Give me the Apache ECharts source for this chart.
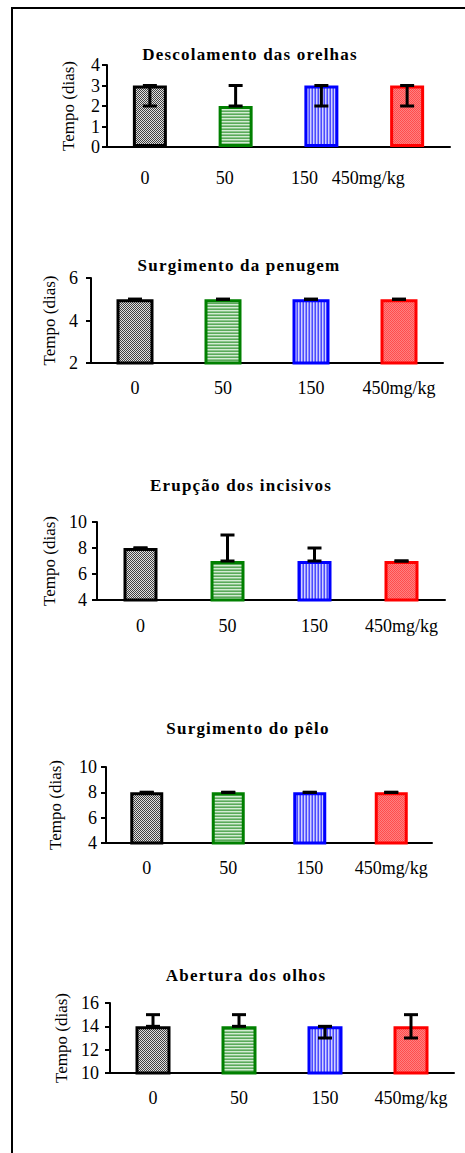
<!DOCTYPE html>
<html>
<head>
<meta charset="utf-8">
<script src="https://cdn.jsdelivr.net/npm/echarts@6/dist/echarts.min.js"></script>
<style>
html,body{margin:0;padding:0;background:#fff;}
#chart{width:465px;height:1153px;}
</style>
</head>
<body>
<div id="chart"></div>
<script>
// ---- data ----
const categories = ['0', '50', '150', '450mg/kg'];
const titles = ['Descolamento das orelhas', 'Surgimento da penugem', 'Erupção dos incisivos', 'Surgimento do pêlo', 'Abertura dos olhos'];
const yName = 'Tempo (dias)';

const values1 = [3, 2, 3, 3];
const errLow1 = [2, 2, 2, 2];
const errHigh1 = [3, 3, 3, 3];

const values2 = [5, 5, 5, 5];
const errLow2 = [5, 5, 5, 5];
const errHigh2 = [5, 5, 5, 5];

const values3 = [8, 7, 7, 7];
const errLow3 = [8, 7, 7, 7];
const errHigh3 = [8, 9, 8, 7];

const values4 = [8, 8, 8, 8];
const errLow4 = [8, 8, 8, 8];
const errHigh4 = [8, 8, 8, 8];

const values5 = [14, 14, 14, 14];
const errLow5 = [14, 14, 13, 13];
const errHigh5 = [15, 15, 14, 15];

const yMins = [0, 2, 4, 4, 10];
const yMaxs = [4, 6, 10, 10, 16];
const ySteps = [1, 2, 2, 2, 2];

const allValues = [values1, values2, values3, values4, values5];
const allLow = [errLow1, errLow2, errLow3, errLow4, errLow5];
const allHigh = [errHigh1, errHigh2, errHigh3, errHigh4, errHigh5];

// ---- styles ----
const FONT = 'Liberation Serif, Times New Roman, serif';
const borderColors = ['#000000', '#008000', '#0000ff', '#ff0000'];

function makePattern(w, h, drawFn) {
  const c = document.createElement('canvas');
  c.width = w; c.height = h;
  const ctx = c.getContext('2d');
  drawFn(ctx);
  return { image: c, repeat: 'repeat' };
}
const patterns = [
  makePattern(2, 2, ctx => { ctx.fillStyle = '#e0e0e0'; ctx.fillRect(0,0,2,2); ctx.fillStyle = '#404040'; ctx.fillRect(0,0,1,1); ctx.fillRect(1,1,1,1); }),
  makePattern(1, 3, ctx => { ctx.fillStyle = '#5aaa5a'; ctx.fillRect(0,0,1,1); ctx.fillStyle = '#d4ecd4'; ctx.fillRect(0,1,1,1); ctx.fillStyle = '#8cc48c'; ctx.fillRect(0,2,1,1); }),
  makePattern(3, 1, ctx => { ctx.fillStyle = '#4a4aff'; ctx.fillRect(0,0,1,1); ctx.fillStyle = '#d0d0ff'; ctx.fillRect(1,0,1,1); ctx.fillStyle = '#8a8aff'; ctx.fillRect(2,0,1,1); }),
  makePattern(2, 2, ctx => { ctx.fillStyle = '#ff8080'; ctx.fillRect(0,0,2,2); ctx.fillStyle = '#ff4d4d'; ctx.fillRect(0,0,1,1); ctx.fillRect(1,1,1,1); })
];

// layout of each panel (pixels)
const grids = [
  { left: 107, top: 65, width: 343, height: 82 },
  { left: 91, top: 278, width: 352, height: 85 },
  { left: 97, top: 522, width: 348, height: 78 },
  { left: 106, top: 767, width: 326, height: 76 },
  { left: 110, top: 1003, width: 344, height: 70 }
];
const barWidths = [34, 37, 34, 33, 35];
const titlePos = [[245, 41], [234, 252], [236, 472], [243, 715], [241, 962]];
const nameGaps = [30, 32, 38, 42, 39];
const labelMargins = [22, 16, 17, 16, 16];
const tickLabelMargins = [7, 13, 10, 9, 11];
const p1Shift = [10, 22, 34, 78];

const catLabel = { fontFamily: FONT, fontSize: 18, color: '#000' };

const option = {
  animation: false,
  backgroundColor: '#ffffff',
  title: titles.map((t, i) => ({
    text: t,
    left: titlePos[i][0],
    top: titlePos[i][1],
    textAlign: 'center',
    textStyle: { fontFamily: FONT, fontWeight: 'bold', fontSize: 17, color: '#000' }
  })),
  grid: grids.map(g => Object.assign({ containLabel: false }, g)),
  xAxis: grids.map((g, i) => ({
    type: 'category',
    gridIndex: i,
    data: categories,
    axisLine: { lineStyle: { color: '#000', width: 2 } },
    axisTick: { show: false },
    axisLabel: i === 0 ? {
      margin: labelMargins[i],
      interval: 0,
      hideOverlap: false,
      formatter: (v, idx) => '{p' + idx + '|' + v + '}',
      rich: {
        p0: Object.assign({ padding: [0, p1Shift[0], 0, 0] }, catLabel),
        p1: Object.assign({ padding: [0, p1Shift[1], 0, 0] }, catLabel),
        p2: Object.assign({ padding: [0, p1Shift[2], 0, 0] }, catLabel),
        p3: Object.assign({ padding: [0, p1Shift[3], 0, 0] }, catLabel)
      }
    } : Object.assign({ margin: labelMargins[i], interval: 0, hideOverlap: false }, catLabel)
  })),
  yAxis: grids.map((g, i) => ({
    type: 'value',
    gridIndex: i,
    min: yMins[i],
    max: yMaxs[i],
    interval: ySteps[i],
    name: yName,
    nameLocation: 'middle',
    nameGap: nameGaps[i],
    nameTextStyle: { fontFamily: FONT, fontSize: 17, color: '#000' },
    axisLine: { show: true, lineStyle: { color: '#000', width: 2 } },
    axisTick: { show: true, length: 5, lineStyle: { color: '#000', width: 2 } },
    axisLabel: { fontFamily: FONT, fontSize: 18, color: '#000', margin: tickLabelMargins[i] },
    splitLine: { show: false }
  })),
  series: []
};

allValues.forEach((vals, i) => {
  option.series.push({
    type: 'bar',
    xAxisIndex: i,
    yAxisIndex: i,
    barWidth: barWidths[i],
    data: vals.map((v, k) => ({
      value: v,
      itemStyle: { color: patterns[k], borderColor: borderColors[k], borderWidth: 3 }
    }))
  });
  option.series.push({
    type: 'custom',
    xAxisIndex: i,
    yAxisIndex: i,
    data: vals.map((v, k) => [k, allLow[i][k], allHigh[i][k]]),
    renderItem: function (params, api) {
      const lo = api.coord([api.value(0), api.value(1)]);
      const hi = api.coord([api.value(0), api.value(2)]);
      const hw = 7;
      const st = { stroke: '#000', lineWidth: 3 };
      return {
        type: 'group',
        children: [
          { type: 'line', shape: { x1: lo[0], y1: lo[1], x2: hi[0], y2: hi[1] }, style: st },
          { type: 'line', shape: { x1: lo[0] - hw, y1: lo[1], x2: lo[0] + hw, y2: lo[1] }, style: st },
          { type: 'line', shape: { x1: hi[0] - hw, y1: hi[1], x2: hi[0] + hw, y2: hi[1] }, style: st }
        ]
      };
    },
    z: 5
  });
});

// outer frame (left and top border)
option.graphic = [
  { type: 'polyline', shape: { points: [[12, 1153], [12, 8], [465, 8]] }, style: { stroke: '#000', lineWidth: 2, fill: null } }
];

const chart = echarts.init(document.getElementById('chart'), null, { renderer: 'svg' });
function spaceTitles() {
  document.querySelectorAll('#chart svg text').forEach(el => {
    if (titles.indexOf(el.textContent) >= 0) el.style.letterSpacing = '1.2px';
  });
}
chart.on('finished', spaceTitles);
chart.setOption(option);
spaceTitles();
</script>
</body>
</html>
